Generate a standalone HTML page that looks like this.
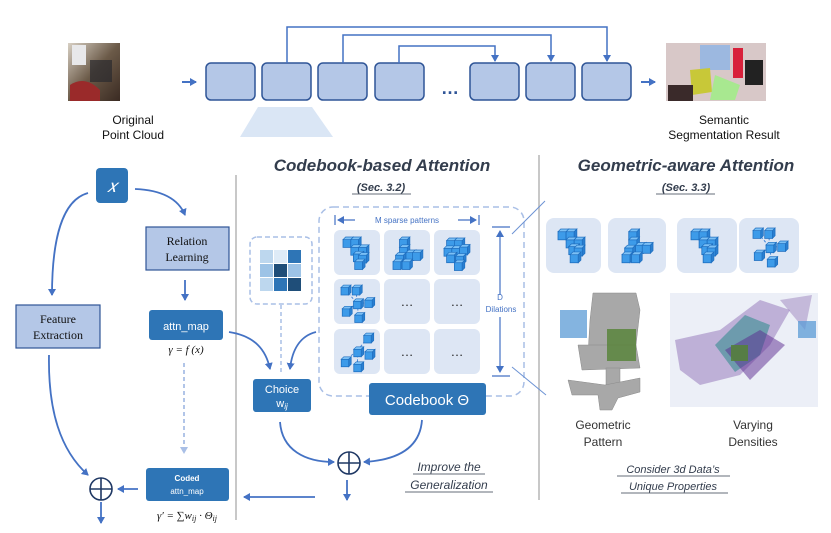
<!DOCTYPE html>
<html><head><meta charset="utf-8"><style>
body{margin:0;background:#fff}
svg{display:block;font-family:"Liberation Sans",sans-serif}
</style></head><body>
<svg width="831" height="533" viewBox="0 0 831 533" xmlns="http://www.w3.org/2000/svg">
<defs>
<marker id="ah" markerWidth="8" markerHeight="8" refX="6" refY="4" orient="auto" markerUnits="userSpaceOnUse"><path d="M0,0 L7,4 L0,8 Z" fill="#4472c4"/></marker>
<marker id="ahl" markerWidth="8" markerHeight="8" refX="6" refY="4" orient="auto" markerUnits="userSpaceOnUse"><path d="M0,0 L7,4 L0,8 Z" fill="#a9bfe6"/></marker>
<g id="cb"><rect x="0" y="2" width="6" height="6" fill="#3d9be9" stroke="#1f6fc0" stroke-width="0.6"/><path d="M0,2 L2,0 L8,0 L6,2Z" fill="#7cc0f5" stroke="#1f6fc0" stroke-width="0.5"/><path d="M6,2 L8,0 L8,6 L6,8Z" fill="#2a7fd0" stroke="#1f6fc0" stroke-width="0.5"/></g>
<g id="c1"><use href="#cb" x="0" y="0"/><use href="#cb" x="6" y="0"/><use href="#cb" x="6" y="6"/><use href="#cb" x="12" y="6"/><use href="#cb" x="8" y="11"/><use href="#cb" x="12" y="12"/><use href="#cb" x="9" y="17"/></g>
<g id="c2"><use href="#cb" x="5" y="0"/><use href="#cb" x="5" y="6"/><use href="#cb" x="2" y="12"/><use href="#cb" x="10" y="10"/><use href="#cb" x="15" y="10"/><use href="#cb" x="0" y="17"/><use href="#cb" x="7" y="17"/></g>
<g id="c3"><use href="#cb" x="2" y="0"/><use href="#cb" x="8" y="0"/><use href="#cb" x="0" y="6"/><use href="#cb" x="6" y="6"/><use href="#cb" x="12" y="5"/><use href="#cb" x="2" y="11"/><use href="#cb" x="9" y="12"/><use href="#cb" x="8" y="17"/></g>
<g id="c4"><path d="M4,4 L13,15 M13,15 L22,14 M13,15 L5,20 M13,15 L14,25 M12,4 L13,15" stroke="#4a8ad8" stroke-width="0.8" stroke-dasharray="2,1.5" fill="none"/><use href="#cb" x="0" y="0"/><use href="#cb" x="9" y="0"/><use href="#cb" x="10" y="11"/><use href="#cb" x="19" y="10"/><use href="#cb" x="1" y="17"/><use href="#cb" x="11" y="22"/></g>
<g id="c5"><path d="M22,4 L14,14 L4,22 M14,14 L22,16 M14,14 L14,26" stroke="#4a8ad8" stroke-width="0.8" stroke-dasharray="2,1.5" fill="none"/><use href="#cb" x="19" y="0"/><use href="#cb" x="11" y="11"/><use href="#cb" x="20" y="13"/><use href="#cb" x="1" y="19"/><use href="#cb" x="11" y="23"/></g>
<linearGradient id="room" x1="0" y1="0" x2="1" y2="1"><stop offset="0" stop-color="#d8d0c4"/><stop offset="0.5" stop-color="#6b5a48"/><stop offset="1" stop-color="#3a2a22"/></linearGradient>
</defs>

<!-- TOP -->
<rect x="68" y="43" width="52" height="58" fill="url(#room)"/>
<rect x="72" y="45" width="14" height="20" fill="#e8e8ea"/>
<path d="M70,85 Q85,75 100,90 L100,101 L70,101Z" fill="#9a2a2a"/>
<rect x="90" y="60" width="22" height="22" fill="#2a2a2e" opacity="0.7"/>
<text x="133" y="124" font-size="12" text-anchor="middle" fill="#111">Original</text>
<text x="133" y="139" font-size="12" text-anchor="middle" fill="#111">Point Cloud</text>
<line x1="182" y1="82" x2="196" y2="82" stroke="#4472c4" stroke-width="2" marker-end="url(#ah)"/>

<g fill="#b4c7e7" stroke="#2f5597" stroke-width="1.5">
<rect x="206" y="63" width="49" height="37" rx="5"/><rect x="262" y="63" width="49" height="37" rx="5"/><rect x="318" y="63" width="49" height="37" rx="5"/><rect x="375" y="63" width="49" height="37" rx="5"/><rect x="470" y="63" width="49" height="37" rx="5"/><rect x="526" y="63" width="49" height="37" rx="5"/><rect x="582" y="63" width="49" height="37" rx="5"/>
</g>
<text x="450" y="94" font-size="18" font-weight="bold" text-anchor="middle" fill="#2f5597">…</text>
<g fill="none" stroke="#4472c4" stroke-width="1.5">
<path d="M287,63 V27 H607 V61" marker-end="url(#ah)"/>
<path d="M343,63 V35 H551 V61" marker-end="url(#ah)"/>
<path d="M399,63 V46 H495 V61" marker-end="url(#ah)"/>
</g>
<line x1="641" y1="82" x2="655" y2="82" stroke="#4472c4" stroke-width="2" marker-end="url(#ah)"/>
<rect x="666" y="43" width="100" height="58" fill="#d8c8c8"/>
<rect x="700" y="45" width="30" height="25" fill="#9cb8e0"/>
<rect x="733" y="48" width="10" height="30" fill="#d8203a"/>
<path d="M690,70 L710,68 L712,92 L692,95Z" fill="#c8c838"/>
<path d="M715,75 L740,85 L735,100 L710,100Z" fill="#a8e890"/>
<rect x="668" y="85" width="25" height="16" fill="#3a2a2a"/>
<rect x="745" y="60" width="18" height="25" fill="#222"/>
<text x="724" y="124" font-size="12" text-anchor="middle" fill="#111">Semantic</text>
<text x="724" y="139" font-size="12" text-anchor="middle" fill="#111">Segmentation Result</text>
<path d="M258,107 L312,107 L333,137 L240,137Z" fill="#dae6f5"/>

<!-- separators -->
<line x1="236" y1="175" x2="236" y2="520" stroke="#c8c8c8" stroke-width="2"/>
<line x1="539" y1="155" x2="539" y2="500" stroke="#c8c8c8" stroke-width="2"/>

<!-- LEFT -->
<rect x="96" y="168" width="32" height="35" rx="4" fill="#2e75b6"/>
<text x="112" y="192" font-size="18" font-style="italic" font-family="Liberation Serif,serif" text-anchor="middle" fill="#fff">𝑥</text>
<rect x="146" y="227" width="83" height="43" fill="#b4c7e7" stroke="#2f5597" stroke-width="1.2"/>
<text x="187" y="245" font-size="12" font-family="Liberation Serif,serif" text-anchor="middle" fill="#111">Relation</text>
<text x="187" y="261" font-size="12" font-family="Liberation Serif,serif" text-anchor="middle" fill="#111">Learning</text>
<rect x="16" y="305" width="84" height="43" fill="#b4c7e7" stroke="#2f5597" stroke-width="1.2"/>
<text x="58" y="323" font-size="12" font-family="Liberation Serif,serif" text-anchor="middle" fill="#111">Feature</text>
<text x="58" y="339" font-size="12" font-family="Liberation Serif,serif" text-anchor="middle" fill="#111">Extraction</text>
<rect x="149" y="310" width="74" height="30" rx="3" fill="#2e75b6"/>
<text x="186" y="330" font-size="11" text-anchor="middle" fill="#fff">attn_map</text>
<text x="186" y="353" font-size="11" font-style="italic" font-family="Liberation Serif,serif" text-anchor="middle" fill="#111">γ = f (x)</text>
<rect x="146" y="468" width="83" height="33" rx="3" fill="#2e75b6"/>
<text x="187" y="481" font-size="8" font-weight="bold" text-anchor="middle" fill="#fff">Coded</text>
<text x="187" y="494" font-size="8" text-anchor="middle" fill="#fff">attn_map</text>
<text x="187" y="519" font-size="11" font-style="italic" font-family="Liberation Serif,serif" text-anchor="middle" fill="#111">γ′ = ∑w<tspan font-size="8" dy="2">ij</tspan><tspan dy="-2"> · Θ</tspan><tspan font-size="8" dy="2">ij</tspan></text>

<g fill="none" stroke="#4472c4" stroke-width="1.8">
<path d="M88,193 C62,200 52,240 52,295" marker-end="url(#ah)"/>
<path d="M135,189 C160,190 178,198 185,215" marker-end="url(#ah)"/>
<path d="M185,280 V300" marker-end="url(#ah)"/>
<path d="M49,355 C48,410 60,450 88,475" marker-end="url(#ah)"/>
<path d="M138,489 H118" marker-end="url(#ah)"/>
<path d="M101,502 V523" marker-end="url(#ah)"/>
<path d="M229,332 C255,336 266,350 270,369" marker-end="url(#ah)"/>
<path d="M316,332 C300,336 292,350 290,369" marker-end="url(#ah)"/>
<path d="M280,422 C282,450 305,462 334,462" marker-end="url(#ah)"/>
<path d="M422,420 C420,448 398,460 364,462" marker-end="url(#ah)"/>
<path d="M347,480 V500" marker-end="url(#ah)"/>
<path d="M315,497 H244" marker-end="url(#ah)"/>
</g>
<path d="M184,363 V453" stroke="#a9bfe6" stroke-width="1.8" stroke-dasharray="4,3" fill="none" marker-end="url(#ahl)"/>
<circle cx="101" cy="489" r="11" fill="#fff" stroke="#1f3864" stroke-width="1.6"/>
<path d="M90,489 H112 M101,478 V500" stroke="#1f3864" stroke-width="1.6"/>
<circle cx="349" cy="463" r="11" fill="#fff" stroke="#1f3864" stroke-width="1.6"/>
<path d="M338,463 H360 M349,452 V474" stroke="#1f3864" stroke-width="1.6"/>

<!-- MIDDLE -->
<text x="382" y="171" font-size="17" font-weight="bold" font-style="italic" text-anchor="middle" fill="#333d4d">Codebook-based Attention</text>
<text x="381" y="191" font-size="11" font-weight="bold" font-style="italic" text-anchor="middle" fill="#333d4d">(Sec. 3.2)</text>
<line x1="352" y1="194" x2="411" y2="194" stroke="#333d4d" stroke-width="0.8"/>
<rect x="250" y="237" width="62" height="67" rx="7" fill="none" stroke="#a9bfe6" stroke-width="1.5" stroke-dasharray="5,3"/>
<g>
<rect x="260" y="250" width="13" height="13" fill="#bdd7ee"/><rect x="274" y="250" width="13" height="13" fill="#deebf7"/><rect x="288" y="250" width="13" height="13" fill="#2e75b6"/>
<rect x="260" y="264" width="13" height="13" fill="#9dc3e6"/><rect x="274" y="264" width="13" height="13" fill="#1f4e79"/><rect x="288" y="264" width="13" height="13" fill="#9dc3e6"/>
<rect x="260" y="278" width="13" height="13" fill="#bdd7ee"/><rect x="274" y="278" width="13" height="13" fill="#2e75b6"/><rect x="288" y="278" width="13" height="13" fill="#1f4e79"/>
</g>
<path d="M281,305 V375" stroke="#a9bfe6" stroke-width="1.5" stroke-dasharray="4,3"/>
<rect x="319" y="207" width="205" height="189" rx="14" fill="none" stroke="#a9bfe6" stroke-width="1.5" stroke-dasharray="6,4"/>
<g fill="#dde6f4">
<rect x="334" y="230" width="46" height="45" rx="6"/><rect x="384" y="230" width="46" height="45" rx="6"/><rect x="434" y="230" width="46" height="45" rx="6"/>
<rect x="334" y="279" width="46" height="45" rx="6"/><rect x="384" y="279" width="46" height="45" rx="6"/><rect x="434" y="279" width="46" height="45" rx="6"/>
<rect x="334" y="329" width="46" height="45" rx="6"/><rect x="384" y="329" width="46" height="45" rx="6"/><rect x="434" y="329" width="46" height="45" rx="6"/>
</g>
<use href="#c1" transform="translate(343,237) scale(1.3)"/><use href="#c2" transform="translate(393,237) scale(1.3)"/><use href="#c3" transform="translate(444,238) scale(1.3)"/>
<use href="#c4" transform="translate(341,285) scale(1.25)"/><use href="#c5" transform="translate(340,333) scale(1.25)"/>
<g font-size="13" text-anchor="middle" fill="#222"><text x="407" y="306">…</text><text x="457" y="306">…</text><text x="407" y="356">…</text><text x="457" y="356">…</text></g>
<g stroke="#4472c4" stroke-width="1.2" fill="none">
<path d="M335,215 V225 M479,215 V225"/>
<path d="M355,220 H338" marker-end="url(#ah)"/><path d="M458,220 H476" marker-end="url(#ah)"/>
<path d="M492,227 H510 M492,376 H510"/>
<path d="M500,295 V231" marker-end="url(#ah)"/><path d="M500,317 V372" marker-end="url(#ah)"/>
</g>
<text x="407" y="223" font-size="8" text-anchor="middle" fill="#4472c4">M sparse patterns</text>
<text x="500" y="300" font-size="8" text-anchor="middle" fill="#4472c4">D</text>
<text x="501" y="312" font-size="8" text-anchor="middle" fill="#4472c4">Dilations</text>
<path d="M512,234 L545,201 M512,367 L546,395" stroke="#6d93d4" stroke-width="1"/>
<rect x="253" y="379" width="58" height="33" rx="3" fill="#2e75b6"/>
<text x="282" y="393" font-size="11" text-anchor="middle" fill="#fff">Choice</text>
<text x="282" y="407" font-size="11" text-anchor="middle" fill="#fff">w<tspan font-style="italic" font-size="8" dy="2">ij</tspan></text>
<rect x="369" y="383" width="117" height="32" rx="3" fill="#2e75b6"/>
<text x="427" y="405" font-size="15" text-anchor="middle" fill="#fff">Codebook Θ</text>
<text x="449" y="471" font-size="12" font-style="italic" text-anchor="middle" fill="#333d4d">Improve the</text>
<text x="449" y="489" font-size="12" font-style="italic" text-anchor="middle" fill="#333d4d">Generalization</text>
<line x1="413" y1="474" x2="485" y2="474" stroke="#333d4d" stroke-width="0.8"/>
<line x1="405" y1="492" x2="493" y2="492" stroke="#333d4d" stroke-width="0.8"/>

<!-- RIGHT -->
<text x="686" y="171" font-size="17" font-weight="bold" font-style="italic" text-anchor="middle" fill="#333d4d">Geometric-aware Attention</text>
<text x="686" y="191" font-size="11" font-weight="bold" font-style="italic" text-anchor="middle" fill="#333d4d">(Sec. 3.3)</text>
<line x1="656" y1="194" x2="715" y2="194" stroke="#333d4d" stroke-width="0.8"/>
<g fill="#dde6f4">
<rect x="546" y="218" width="55" height="55" rx="8"/><rect x="608" y="218" width="58" height="55" rx="8"/><rect x="677" y="218" width="60" height="55" rx="8"/><rect x="739" y="218" width="60" height="55" rx="8"/>
</g>
<use href="#c1" transform="translate(558,229) scale(1.35)"/><use href="#c2" transform="translate(622,229) scale(1.35)"/><use href="#c1" transform="translate(691,229) scale(1.35)"/><use href="#c4" transform="translate(753,228) scale(1.3)"/>
<!-- chair -->
<g fill="#a8a8a8" stroke="#8a8a8a" stroke-width="0.5">
<path d="M593,293 L636,293 L640,310 L636,345 L630,365 L600,365 L588,355 L590,320Z"/>
<path d="M578,345 L636,345 L640,368 L582,370Z"/>
<rect x="606" y="368" width="14" height="20"/>
<path d="M568,380 L605,385 L640,378 L640,392 L618,398 L612,410 L600,410 L598,395 L572,395Z"/>
</g>
<rect x="560" y="310" width="27" height="28" fill="#5b9bd5" opacity="0.75"/>
<rect x="607" y="329" width="29" height="32" fill="#548235" opacity="0.8"/>
<!-- density -->
<rect x="670" y="293" width="148" height="114" fill="#eceff7"/>
<path d="M675,340 L720,330 L760,300 L790,310 L770,345 L740,375 L700,385 L680,370Z" fill="#6a3d9a" opacity="0.35"/>
<path d="M715,345 L745,315 L770,325 L760,355 L735,372Z" fill="#2a8a8a" opacity="0.55"/>
<path d="M725,350 L760,330 L785,345 L750,380Z" fill="#5a2a90" opacity="0.5"/>
<path d="M780,300 L812,295 L805,330Z" fill="#8a6ab0" opacity="0.4"/>
<rect x="731" y="345" width="17" height="16" fill="#548235" opacity="0.85"/>
<rect x="798" y="321" width="18" height="17" fill="#5b9bd5" opacity="0.75"/>
<text x="603" y="429" font-size="12" text-anchor="middle" fill="#333">Geometric</text>
<text x="603" y="446" font-size="12" text-anchor="middle" fill="#333">Pattern</text>
<text x="753" y="429" font-size="12" text-anchor="middle" fill="#333">Varying</text>
<text x="753" y="446" font-size="12" text-anchor="middle" fill="#333">Densities</text>
<text x="673" y="473" font-size="11" font-style="italic" text-anchor="middle" fill="#333d4d">Consider 3d Data’s</text>
<text x="673" y="490" font-size="11" font-style="italic" text-anchor="middle" fill="#333d4d">Unique Properties</text>
<line x1="617" y1="476" x2="730" y2="476" stroke="#333d4d" stroke-width="0.8"/>
<line x1="621" y1="493" x2="728" y2="493" stroke="#333d4d" stroke-width="0.8"/>
</svg>
</body></html>
